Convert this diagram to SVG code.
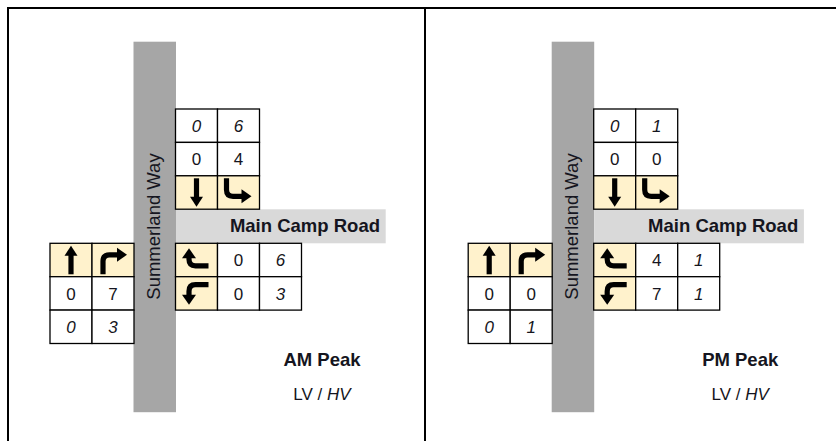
<svg xmlns="http://www.w3.org/2000/svg" xmlns:xlink="http://www.w3.org/1999/xlink" width="836" height="441" viewBox="0 0 836 441">
<style>
.frame{stroke:#000;stroke-width:2;fill:none}
.road{fill:#a6a6a6}
.band{fill:#d9d9d9}
.cell{fill:#fff;stroke:#000;stroke-width:1.3}
.mv{fill:#fff2cc;stroke:#000;stroke-width:1.3}
.t{font-family:"Liberation Sans",Arial,sans-serif;fill:#151520}
.num{font-size:17px;text-anchor:middle}
.hv{font-style:italic}
.road-lbl{font-size:18.5px}
.bold{font-weight:bold}
.ashaft{fill:none;stroke:#000;stroke-width:5.2}
.ahead{fill:#000}
</style>
<defs>
<g id="arr-down"><path class="ashaft" d="M21,2.5 V22"/><polygon class="ahead" points="14.5,21 27.5,21 21,31"/></g>
<g id="arr-up"><path class="ashaft" d="M21,31 V11.5"/><polygon class="ahead" points="14.5,12.5 27.5,12.5 21,2.5"/></g>
<g id="arr-down-right"><path class="ashaft" d="M9,2.5 V14 Q9,20.5 15.5,20.5 H25"/><polygon class="ahead" points="24,13.5 24,27.5 34,20.5"/></g>
<g id="arr-up-right"><path class="ashaft" d="M11,31 V18 Q11,11.5 17.5,11.5 H26"/><polygon class="ahead" points="25,4.5 25,18.5 35,11.5"/></g>
<g id="arr-left-up"><path class="ashaft" d="M33,22.5 H20 Q13.5,22.5 13.5,16 V14"/><polygon class="ahead" points="6.5,15 20.5,15 13.5,5"/></g>
<g id="arr-left-down"><path class="ashaft" d="M33,8 H20 Q13.5,8 13.5,14.5 V19"/><polygon class="ahead" points="6.5,18 20.5,18 13.5,28"/></g>
</defs>
<rect width="836" height="441" fill="#fff"/>
<g id="connectors">
<path class="frame" d="M8,441 V8 H836"/>
<path class="frame" d="M425,8 V441"/>
</g>

<g id="am-panel">
<g id="am-roads">
<rect class="road" x="133.5" y="41.7" width="42.5" height="370.5"/>
<rect class="band" x="176" y="209.3" width="209.7" height="34"/>
<text class="t road-lbl" transform="translate(160,226.5) rotate(-90)" text-anchor="middle">Summerland Way</text>
<text class="t road-lbl bold" x="380" y="232.3" text-anchor="end">Main Camp Road</text>
</g>
<g id="am-sb">
<rect class="cell" x="175.5" y="109" width="42" height="33.4"/><rect class="cell" x="217.5" y="109" width="42" height="33.4"/>
<rect class="cell" x="175.5" y="142.4" width="42" height="33.4"/><rect class="cell" x="217.5" y="142.4" width="42" height="33.4"/>
<rect class="mv" x="175.5" y="175.8" width="42" height="33.4"/><rect class="mv" x="217.5" y="175.8" width="42" height="33.4"/>
<text class="t num hv" x="196.5" y="131.8">0</text><text class="t num hv" x="238.5" y="131.8">6</text>
<text class="t num" x="196.5" y="165.2">0</text><text class="t num" x="238.5" y="165.2">4</text>
<use xlink:href="#arr-down" href="#arr-down" transform="translate(175.5,175.8)"/>
<use xlink:href="#arr-down-right" href="#arr-down-right" transform="translate(217.5,175.8)"/>
</g>
<g id="am-wb">
<rect class="mv" x="175.5" y="243.3" width="42" height="33.4"/><rect class="cell" x="217.5" y="243.3" width="42" height="33.4"/><rect class="cell" x="259.5" y="243.3" width="42" height="33.4"/>
<rect class="mv" x="175.5" y="276.7" width="42" height="33.4"/><rect class="cell" x="217.5" y="276.7" width="42" height="33.4"/><rect class="cell" x="259.5" y="276.7" width="42" height="33.4"/>
<use xlink:href="#arr-left-up" href="#arr-left-up" transform="translate(175.5,243.3)"/>
<use xlink:href="#arr-left-down" href="#arr-left-down" transform="translate(175.5,276.7)"/>
<text class="t num" x="238.5" y="266.1">0</text><text class="t num hv" x="280.5" y="266.1">6</text>
<text class="t num" x="238.5" y="299.5">0</text><text class="t num hv" x="280.5" y="299.5">3</text>
</g>
<g id="am-nb">
<rect class="mv" x="50" y="243.3" width="42" height="33.4"/><rect class="mv" x="92" y="243.3" width="42" height="33.4"/>
<rect class="cell" x="50" y="276.7" width="42" height="33.4"/><rect class="cell" x="92" y="276.7" width="42" height="33.4"/>
<rect class="cell" x="50" y="310.1" width="42" height="33.4"/><rect class="cell" x="92" y="310.1" width="42" height="33.4"/>
<use xlink:href="#arr-up" href="#arr-up" transform="translate(50,243.3)"/>
<use xlink:href="#arr-up-right" href="#arr-up-right" transform="translate(92,243.3)"/>
<text class="t num" x="71" y="299.5">0</text><text class="t num" x="113" y="299.5">7</text>
<text class="t num hv" x="71" y="332.9">0</text><text class="t num hv" x="113" y="332.9">3</text>
</g>
<g id="am-legend">
<text class="t bold" x="322" y="366" font-size="18.5" text-anchor="middle">AM Peak</text>
<text class="t" x="322" y="400" font-size="17" text-anchor="middle">LV / <tspan font-style="italic">HV</tspan></text>
</g>
</g>

<g id="pm-panel" transform="translate(418.2,0)">
<g id="pm-roads">
<rect class="road" x="133.5" y="41.7" width="42.5" height="370.5"/>
<rect class="band" x="176" y="209.3" width="209.7" height="34"/>
<text class="t road-lbl" transform="translate(160,226.5) rotate(-90)" text-anchor="middle">Summerland Way</text>
<text class="t road-lbl bold" x="380" y="232.3" text-anchor="end">Main Camp Road</text>
</g>
<g id="pm-sb">
<rect class="cell" x="175.5" y="109" width="42" height="33.4"/><rect class="cell" x="217.5" y="109" width="42" height="33.4"/>
<rect class="cell" x="175.5" y="142.4" width="42" height="33.4"/><rect class="cell" x="217.5" y="142.4" width="42" height="33.4"/>
<rect class="mv" x="175.5" y="175.8" width="42" height="33.4"/><rect class="mv" x="217.5" y="175.8" width="42" height="33.4"/>
<text class="t num hv" x="196.5" y="131.8">0</text><text class="t num hv" x="238.5" y="131.8">1</text>
<text class="t num" x="196.5" y="165.2">0</text><text class="t num" x="238.5" y="165.2">0</text>
<use xlink:href="#arr-down" href="#arr-down" transform="translate(175.5,175.8)"/>
<use xlink:href="#arr-down-right" href="#arr-down-right" transform="translate(217.5,175.8)"/>
</g>
<g id="pm-wb">
<rect class="mv" x="175.5" y="243.3" width="42" height="33.4"/><rect class="cell" x="217.5" y="243.3" width="42" height="33.4"/><rect class="cell" x="259.5" y="243.3" width="42" height="33.4"/>
<rect class="mv" x="175.5" y="276.7" width="42" height="33.4"/><rect class="cell" x="217.5" y="276.7" width="42" height="33.4"/><rect class="cell" x="259.5" y="276.7" width="42" height="33.4"/>
<use xlink:href="#arr-left-up" href="#arr-left-up" transform="translate(175.5,243.3)"/>
<use xlink:href="#arr-left-down" href="#arr-left-down" transform="translate(175.5,276.7)"/>
<text class="t num" x="238.5" y="266.1">4</text><text class="t num hv" x="280.5" y="266.1">1</text>
<text class="t num" x="238.5" y="299.5">7</text><text class="t num hv" x="280.5" y="299.5">1</text>
</g>
<g id="pm-nb">
<rect class="mv" x="50" y="243.3" width="42" height="33.4"/><rect class="mv" x="92" y="243.3" width="42" height="33.4"/>
<rect class="cell" x="50" y="276.7" width="42" height="33.4"/><rect class="cell" x="92" y="276.7" width="42" height="33.4"/>
<rect class="cell" x="50" y="310.1" width="42" height="33.4"/><rect class="cell" x="92" y="310.1" width="42" height="33.4"/>
<use xlink:href="#arr-up" href="#arr-up" transform="translate(50,243.3)"/>
<use xlink:href="#arr-up-right" href="#arr-up-right" transform="translate(92,243.3)"/>
<text class="t num" x="71" y="299.5">0</text><text class="t num" x="113" y="299.5">0</text>
<text class="t num hv" x="71" y="332.9">0</text><text class="t num hv" x="113" y="332.9">1</text>
</g>
<g id="pm-legend">
<text class="t bold" x="322" y="366" font-size="18.5" text-anchor="middle">PM Peak</text>
<text class="t" x="322" y="400" font-size="17" text-anchor="middle">LV / <tspan font-style="italic">HV</tspan></text>
</g>
</g>
</svg>
